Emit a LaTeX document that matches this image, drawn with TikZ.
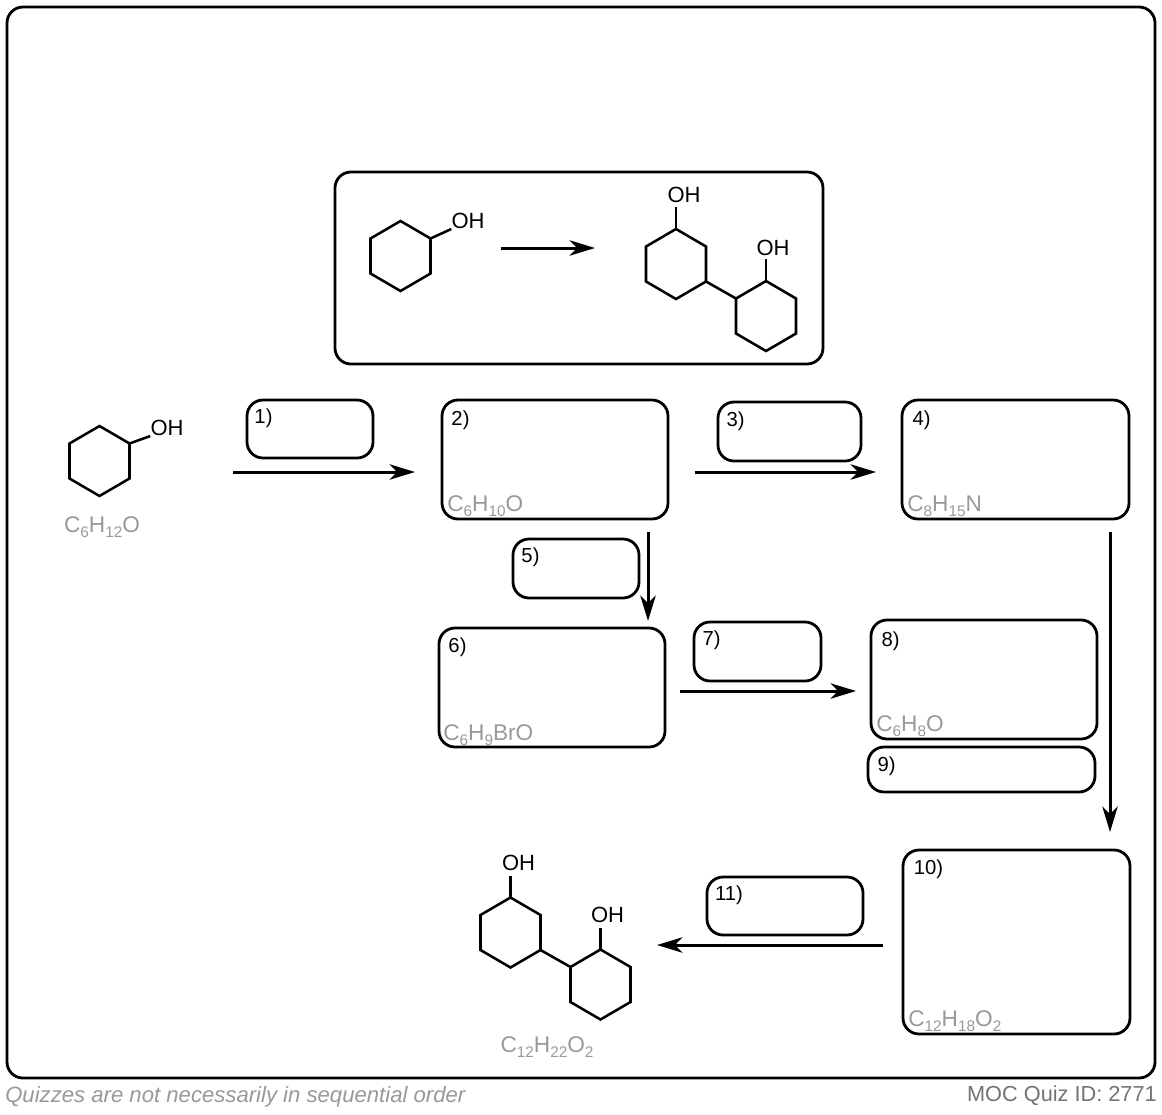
\documentclass[tikz,border=0pt]{standalone}
\usepackage{fontspec}
\setmainfont{Liberation Sans}
\usetikzlibrary{arrows.meta}

\definecolor{formulagray}{gray}{0.6}
\newcommand{\lowered}[1]{\raisebox{-0.22em}{\fontsize{11.5}{11.5}\selectfont #1}}
\newcommand{\hexring}[2]{%
    \draw[bond] (#1, #2 - 35) -- (#1 + 30, #2 - 17.5) -- (#1 + 30, #2 + 17.5)
	-- (#1, #2 + 35) -- (#1 - 30, #2 + 17.5) -- (#1 - 30, #2 - 17.5) -- cycle;}
\tikzset{
    bond/.style={line width=1.9pt},
    slot/.style={draw, line width=2.1pt, rounded corners=12pt, inner sep=0pt, outer sep=0pt},
    tag/.style={font=\fontsize{15.2}{17}\selectfont, inner sep=0pt},
    atom/.style={font=\fontsize{16.5}{18}\selectfont, inner sep=0pt},
    formula/.style={font=\fontsize{17}{18}\selectfont, text=formulagray, inner sep=0pt},
    rxn/.style={line width=2.25pt, -{Stealth[length=19pt, width=11.5pt, inset=5.5pt]}}
}

\begin{document}
\begin{tikzpicture}[x=0.75pt, y=-0.75pt]
    \useasboundingbox (0, 0) rectangle (1162, 1114);

    % frames
    \node[slot, minimum width=861pt, minimum height=803.25pt] (frame) at (581, 542.5) {};
    \node[slot, minimum width=366pt, minimum height=144pt] (scheme) at (579, 268) {};

    % answer boxes
    \node[slot, minimum width=94.5pt, minimum height=43.5pt] (box1) at (310, 429) {};
    \node[slot, minimum width=169.5pt, minimum height=89.25pt] (box2) at (555, 459.5) {};
    \node[slot, minimum width=107.25pt, minimum height=44.25pt] (box3) at (789.5, 431.5) {};
    \node[slot, minimum width=170.25pt, minimum height=89.25pt] (box4) at (1015.5, 459.5) {};
    \node[slot, minimum width=94.5pt, minimum height=44.25pt] (box5) at (576, 568.5) {};
    \node[slot, minimum width=169.5pt, minimum height=89.25pt] (box6) at (552, 687.5) {};
    \node[slot, minimum width=95.25pt, minimum height=44.25pt] (box7) at (757.5, 651.5) {};
    \node[slot, minimum width=169.5pt, minimum height=89.25pt] (box8) at (984, 679.5) {};
    \node[slot, minimum width=170.25pt, minimum height=33.75pt] (box9) at (981.5, 769.5) {};
    \node[slot, minimum width=170.25pt, minimum height=138pt] (box10) at (1016.5, 942) {};
    \node[slot, minimum width=117pt, minimum height=43.5pt] (box11) at (785, 906) {};

    \node[tag] (tag1) at (263.5, 418) {1)};
    \node[tag] (tag2) at (460.5, 420) {2)};
    \node[tag] (tag3) at (735.5, 421) {3)};
    \node[tag] (tag4) at (921.5, 420) {4)};
    \node[tag] (tag5) at (530.5, 557) {5)};
    \node[tag] (tag6) at (457.5, 647) {6)};
    \node[tag] (tag7) at (711.5, 640) {7)};
    \node[tag] (tag8) at (890.5, 641) {8)};
    \node[tag] (tag9) at (886.5, 766) {9)};
    \node[tag] (tag10) at (928.5, 869) {10)};
    \node[tag] (tag11) at (729, 895) {11)};

    % formulas
    \node[formula] (f0) at (102, 527.5) {C\lowered{6}H\lowered{12}O};
    \node[formula, anchor=west] (f2) at (447, 506.5) {C\lowered{6}H\lowered{10}O};
    \node[formula, anchor=west] (f4) at (907, 506.5) {C\lowered{8}H\lowered{15}N};
    \node[formula, anchor=west] (f6) at (443, 735.5) {C\lowered{6}H\lowered{9}BrO};
    \node[formula, anchor=west] (f8) at (876, 726.5) {C\lowered{6}H\lowered{8}O};
    \node[formula, anchor=west] (f10) at (908, 1021.5) {C\lowered{12}H\lowered{18}O\lowered{2}};
    \node[formula] (f11) at (547, 1047.5) {C\lowered{12}H\lowered{22}O\lowered{2}};

    % scheme, starting alcohol
    \hexring{400.5}{256}
    \node[atom] (oh1) at (468, 221) {OH};
    \coordinate (c1) at (430.5, 238.5);
    \draw[bond] (c1) -- (oh1.south west);

    % scheme, diol
    \hexring{676}{264}
    \hexring{766}{316}
    \node[atom] (oh2) at (684, 195) {OH};
    \node[atom] (oh3) at (773, 248) {OH};
    \coordinate (c2) at (676, 229);
    \coordinate (c3) at (766, 281);
    \coordinate (c4) at (706, 281.5);
    \coordinate (c5) at (736, 298.5);
    \draw[bond] (c2) -- (676, 207);
    \draw[bond] (c3) -- (766, 259);
    \draw[bond] (c4) -- (c5);

    % start of quiz
    \hexring{99.5}{461}
    \node[atom] (oh4) at (167, 428) {OH};
    \coordinate (c6) at (129.5, 443.5);
    \draw[bond] (c6) -- (oh4.south west);

    % end of quiz
    \hexring{510.5}{932.5}
    \hexring{600.5}{984.5}
    \node[atom] (oh5) at (518.5, 863) {OH};
    \node[atom] (oh6) at (607.5, 915) {OH};
    \coordinate (c7) at (510.5, 897.5);
    \coordinate (c8) at (600.5, 949.5);
    \coordinate (c9) at (540.5, 950);
    \coordinate (c10) at (570.5, 967);
    \draw[bond] (c7) -- (510.5, 875.5);
    \draw[bond] (c8) -- (600.5, 927.5);
    \draw[bond] (c9) -- (c10);

    % arrows
    \coordinate (a0) at (501, 248);
    \coordinate (b0) at (595, 248);
    \coordinate (a1) at (233, 472);
    \coordinate (b1) at (415, 472);
    \coordinate (a3) at (695, 472);
    \coordinate (b3) at (876, 472);
    \coordinate (a5) at (648, 532);
    \coordinate (b5) at (648, 621);
    \coordinate (a7) at (680, 691);
    \coordinate (b7) at (856, 691);
    \coordinate (a4) at (1110, 532);
    \coordinate (b4) at (1110, 832);
    \coordinate (a11) at (883, 945);
    \coordinate (b11) at (657, 945);
    \draw[rxn] (a0) -- (b0);
    \draw[rxn] (a1) -- (b1);
    \draw[rxn] (a3) -- (b3);
    \draw[rxn] (a5) -- (b5);
    \draw[rxn] (a7) -- (b7);
    \draw[rxn] (a4) -- (b4);
    \draw[rxn] (a11) -- (b11);

    % footer
    \node[font=\fontsize{16.6}{18}\selectfont\itshape, text=formulagray, anchor=west, inner sep=0pt] (note) at (5, 1097) {Quizzes are not necessarily in sequential order};
    \node[font=\fontsize{16.3}{18}\selectfont, text=black!55, anchor=east, inner sep=0pt] (quizid) at (1157, 1096) {MOC Quiz ID: 2771};
\end{tikzpicture}
\end{document}
